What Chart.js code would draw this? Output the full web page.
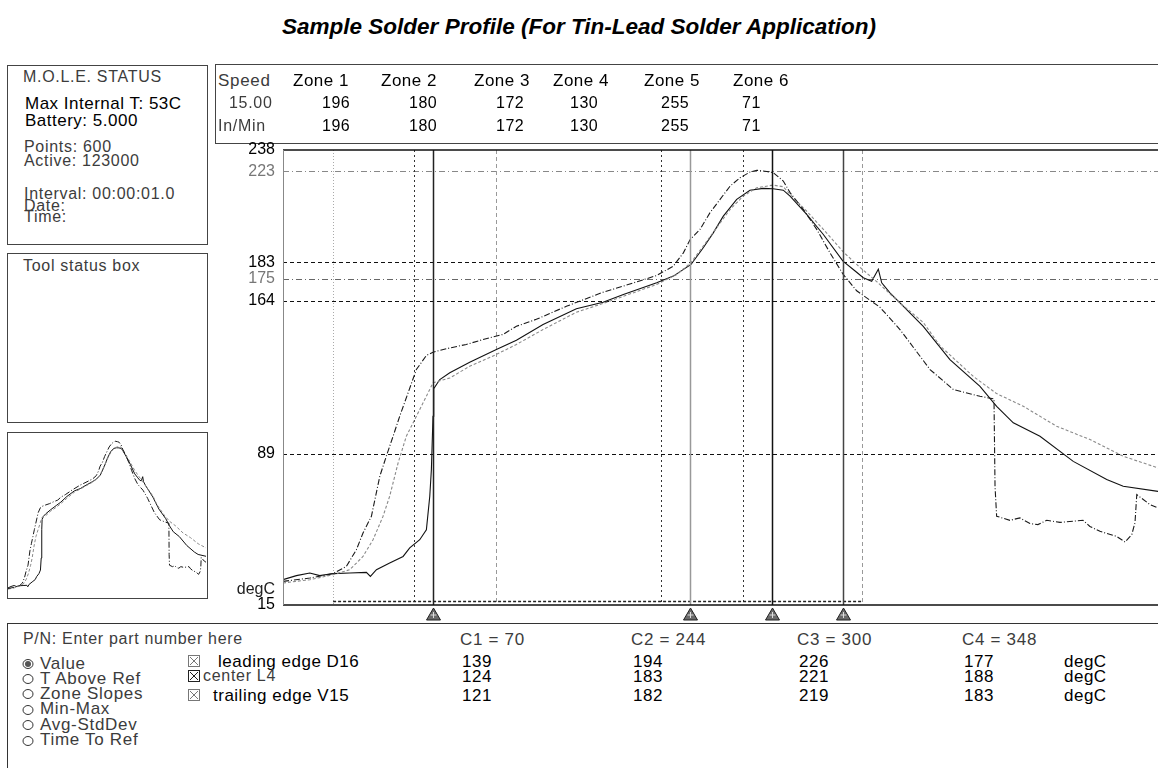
<!DOCTYPE html>
<html>
<head>
<meta charset="utf-8">
<script src="https://cdn.jsdelivr.net/npm/chart.js@4.4.1/dist/chart.umd.min.js"></script>
<style>
body { margin: 0; width: 1158px; height: 768px; overflow: hidden; background: #fff; position: relative;
       font-family: "Liberation Sans", Arial, Helvetica, sans-serif; color: #000; }
.txt { position: absolute; line-height: 1; white-space: nowrap; }
.lt { color: #3c3c3c; letter-spacing: 0.7px; }
.dk { letter-spacing: 0.5px; }
.box { position: absolute; box-sizing: border-box; border: 1px solid #444; }
.title { position: absolute; left: 0; width: 1158px; top: 16px; text-align: center; font-size: 22.5px;
         font-weight: bold; font-style: italic; line-height: 1; }
svg.ic { position: absolute; }
</style>
</head>
<body>
<div class="title">Sample Solder Profile (For Tin-Lead Solder Application)</div>

<div class="box" style="left:7px;top:65px;width:201px;height:180px"></div>
<div class="box" style="left:7px;top:253px;width:201px;height:170px"></div>
<div class="box" style="left:7px;top:432px;width:201px;height:167px"></div>
<div class="box" style="left:215px;top:64px;width:950px;height:80px;border-right:none"></div>
<div class="box" style="left:7px;top:623px;width:1160px;height:160px;border-color:#333"></div>

<canvas id="mainChart" width="943" height="493" style="position:absolute;left:215px;top:130px"></canvas>
<canvas id="thumbChart" width="198" height="163" style="position:absolute;left:8px;top:434px"></canvas>

<script>
// time axis in seconds, temperature in degC
const timeRange = [-32, 561.8];
const tempRange = [15, 238];

const yTickValues = [238, 227.5, 183, 175, 164, 89, 22.5, 15];
const yTickLabels = ['238', '223', '183', '175', '164', '89', 'degC', '15'];
const yTickColors = ['#000', '#777', '#000', '#777', '#000', '#000', '#222', '#000'];

const refLevels = [227.5, 183, 175, 164, 89];
const zoneEdges = [2, 57, 112.5, 224.5, 280, 361];
const cursorTimes = [70, 244, 300, 348];
const conveyorLevel = 17.1;

const zoneNames = ['Zone 1', 'Zone 2', 'Zone 3', 'Zone 4', 'Zone 5', 'Zone 6'];
const zoneTemps = [196, 180, 172, 130, 255, 71];

const seriesNames = ['leading edge D16', 'center L4', 'trailing edge V15'];
const leadingAtCursor = [139, 194, 226, 177];
const centerAtCursor = [124, 183, 221, 188];
const trailingAtCursor = [121, 182, 219, 183];

const leadingEdge = [
    [-32, 26.6], [-13.8, 28.2], [2, 30.4], [11, 33.9], [17.8, 42.1], [22.3, 50.3], [28, 58.5],
    [33.7, 78.1], [38.1, 87.9], [42.7, 97.7], [47.2, 107.5], [52.9, 119.0], [58.5, 130.4],
    [65.3, 137.3], [69.8, 138.9], [78.9, 140.6], [92.4, 142.7], [103.8, 145.1], [117.3, 147.6],
    [126.4, 151.6], [139.9, 155.0], [160.3, 161.4], [185.2, 168.3], [199, 171.3], [221.6, 176.5],
    [232.9, 181.1], [239.7, 187.6], [244.2, 194], [251, 199.1], [257.8, 207.3], [264.6, 213.8],
    [271.4, 220.3], [278.2, 224.4], [284.9, 227.2], [289.5, 228.1], [296.3, 227.5], [300.7, 226.9],
    [307.5, 222.8], [312.1, 217.1], [321.1, 208.9], [330.2, 199.1], [339.2, 187.6], [348.2, 177.0],
    [357.3, 169], [373, 161], [379.9, 155.5], [386.7, 150], [407.1, 130.4], [422.9, 120.6],
    [441, 117.3], [450.5, 116.0], [451.2, 73.2], [452.3, 58.5], [461.3, 56.5], [468.1, 57.7],
    [474.9, 54.9], [480.3, 54.4], [486.3, 56.5], [495.3, 55.5], [510.9, 56.5], [515.6, 53.5],
    [522.4, 51.1], [533.8, 48.6], [539.4, 45.9], [544, 49.5], [546.2, 55.4], [547.4, 69.1],
    [556.4, 64.2], [561.8, 62.6]
];

const centerL4 = [
    [-32, 25.8], [-13.8, 27.4], [2, 29.9], [13.3, 32.3], [22.3, 38.8], [29.1, 47.0], [35.9, 58.5],
    [40.4, 68.3], [46.1, 84.6], [51.7, 97.7], [58.5, 107.5], [65.3, 117.3], [69.8, 123.9],
    [81.2, 126.3], [94.7, 132.0], [112.8, 137.8], [126.4, 142.7], [144.5, 150.0], [167.1, 158.5],
    [185.2, 162.8], [199, 166.3], [221.6, 172.1], [235.2, 177.0], [244.9, 182.8], [253.2, 190.9],
    [262.3, 199.9], [271.4, 208.9], [280.4, 215.4], [289.5, 219.5], [300.5, 220.8], [307.5, 220.0],
    [312.1, 216.2], [323.4, 208.0], [334.7, 199.1], [348, 188.2], [357.3, 181.9], [370.9, 173.5],
    [386.7, 163], [402.5, 153.5], [413.9, 142], [436.5, 127], [452.3, 118.6], [470.4, 112.4],
    [493, 102.6], [515.6, 96.1], [538.2, 87.9], [561.8, 82.2]
];

const trailingEdge = [
    [-32, 27.4], [-22.9, 29.4], [-13.8, 30.7], [-7.1, 29.4], [2, 30.4], [13.3, 30.7], [24.6, 31.0],
    [27.3, 29.0], [31.4, 32.3], [40.4, 35.6], [49.5, 38.8], [54, 43.0], [60.8, 47.0], [65.3, 51.9],
    [67.6, 68.3], [68.7, 81.4], [69.8, 107.5], [70.3, 121], [74.4, 125.5], [81.2, 128.8],
    [94.7, 134.0], [112.8, 140.2], [126.4, 144.8], [144.5, 152.5], [167.1, 160.2], [185.2, 163.4],
    [199, 167.2], [221.6, 172.9], [232.9, 176.2], [244.9, 181.9], [253.2, 190.1], [260, 197.4],
    [266.8, 205.6], [275.9, 213.8], [284.9, 218.3], [293.9, 219.2], [300.5, 219.0], [307.5, 218.3],
    [312.1, 215.4], [323.4, 206.4], [334.7, 196.6], [348, 183.5], [357.3, 178.1], [361.8, 175.4],
    [367.5, 173.7], [372, 179.6], [374.3, 172.9], [379.9, 168.0], [386.7, 163.1], [402.5, 151.6],
    [420.6, 135.3], [441, 122.2], [452.3, 112.4], [463.6, 104.3], [481.7, 97.7], [504.3, 85.4],
    [527, 76.5], [538.2, 73.2], [561.8, 70.7]
];

// line styles
const refDash = [[6, 3, 1, 3], [4, 3], [6, 3, 1, 3], [4, 3], [4, 3]];
const refColor = ['#888', '#111', '#666', '#111', '#111'];
const zoneDash = [[1, 2], [2, 3], [4, 3], [2, 3], [2, 3], [4, 3]];
const zoneColor = ['#aaa', '#333', '#999', '#333', '#333', '#999'];
const cursorColor = ['#222', '#999', '#111', '#444'];

function toXY(list) {
    return list.map(p => ({ x: p[0], y: p[1] }));
}

function put(text, x, baseline, size, cls) {
    const d = document.createElement('div');
    d.className = 'txt ' + (cls || '');
    d.textContent = text;
    d.style.left = x + 'px';
    d.style.top = (baseline - size * 0.85) + 'px';
    d.style.fontSize = size + 'px';
    document.body.appendChild(d);
}

function icon(svg, x, y, w, h) {
    const s = document.createElementNS('http://www.w3.org/2000/svg', 'svg');
    s.setAttribute('class', 'ic');
    s.setAttribute('width', w);
    s.setAttribute('height', h);
    s.style.left = x + 'px';
    s.style.top = y + 'px';
    s.innerHTML = svg;
    document.body.appendChild(s);
}

// status panel
put('M.O.L.E. STATUS', 23, 83, 16, 'lt');
put('Max Internal T: 53C', 25, 109, 17, 'dk');
put('Battery: 5.000', 25, 126, 17, 'dk');
put('Points: 600', 24, 152.5, 16, 'lt');
put('Active: 123000', 24, 166.5, 16, 'lt');
put('Interval: 00:00:01.0', 24, 200, 16, 'lt');
put('Date:', 24, 211.5, 16, 'lt');
put('Time:', 24, 223, 16, 'lt');
put('Tool status box', 23, 272, 16, 'lt');

// zone header
const zoneLabelX = [293, 381, 474, 553, 644, 733];
const zoneValueX = [322, 409, 496, 570, 661, 742];
put('Speed', 218, 86, 17, 'lt');
put('15.00', 229, 109, 16, 'lt');
put('In/Min', 218, 132, 16, 'lt');
zoneNames.forEach((z, i) => put(z, zoneLabelX[i], 86, 17, 'dk'));
zoneTemps.forEach((t, i) => {
    put(String(t), zoneValueX[i], 109, 16, 'dk');
    put(String(t), zoneValueX[i], 132, 16, 'dk');
});

// bottom panel
put('P/N: Enter part number here', 23, 645, 16, 'lt');
const radioNames = ['Value', 'T Above Ref', 'Zone Slopes', 'Min-Max', 'Avg-StdDev', 'Time To Ref'];
const radioBase = [669, 684, 699, 714.5, 730, 745.5];
radioNames.forEach((r, i) => {
    put(r, 40, radioBase[i], 17, 'lt');
    const dot = i === 0 ? '<circle cx="6" cy="6" r="3" fill="#555"/>' : '';
    icon('<ellipse cx="6" cy="6" rx="5" ry="4.5" fill="none" stroke="#333" stroke-width="1"/>' + dot,
        22, radioBase[i] - 11, 12, 12);
});
const checkBase = [667, 682, 701];
const checkX = [218, 203, 213];
const checkCls = ['dk', 'lt', 'dk'];
const checkSize = [17, 16, 17];
seriesNames.forEach((s, i) => {
    put(s, checkX[i], checkBase[i], checkSize[i], checkCls[i]);
    const c = i === 1 ? '#222' : '#777';
    icon('<rect x="0.5" y="0.5" width="11" height="11" fill="none" stroke="' + c + '"/>' +
        '<path d="M2 2 L10 10 M10 2 L2 10" stroke="' + c + '" stroke-width="1"/>',
        188, checkBase[i] - 12, 12, 12);
});
const cursorLabelX = [460, 631, 797, 962];
const readRows = [leadingAtCursor, centerAtCursor, trailingAtCursor];
cursorTimes.forEach((t, i) => {
    put('C' + (i + 1) + ' = ' + t, cursorLabelX[i], 645, 17, 'lt');
    readRows.forEach((row, r) => put(String(row[i]), cursorLabelX[i] + 2, checkBase[r], 17, 'dk'));
});
checkBase.forEach(b => put('degC', 1064, b, 17, 'dk'));

const profileLines = {
    id: 'profileLines',
    beforeDatasetsDraw(chart) {
        const { ctx, chartArea: a, scales: { x, y } } = chart;
        ctx.save();
        ctx.lineWidth = 1;
        refLevels.forEach((v, i) => {
            const py = Math.round(y.getPixelForValue(v)) + 0.5;
            ctx.strokeStyle = refColor[i];
            ctx.setLineDash(refDash[i]);
            ctx.beginPath();
            ctx.moveTo(a.left, py);
            ctx.lineTo(a.right, py);
            ctx.stroke();
        });
        zoneEdges.forEach((t, i) => {
            const px = Math.round(x.getPixelForValue(t)) + 0.5;
            ctx.strokeStyle = zoneColor[i];
            ctx.setLineDash(zoneDash[i]);
            ctx.beginPath();
            ctx.moveTo(px, a.top);
            ctx.lineTo(px, a.bottom);
            ctx.stroke();
        });
        const cy = Math.round(y.getPixelForValue(conveyorLevel)) + 0.5;
        ctx.strokeStyle = '#222';
        ctx.lineWidth = 1.5;
        ctx.setLineDash([3, 2]);
        ctx.beginPath();
        ctx.moveTo(x.getPixelForValue(zoneEdges[0]), cy);
        ctx.lineTo(x.getPixelForValue(zoneEdges[zoneEdges.length - 1]), cy);
        ctx.stroke();
        ctx.restore();
    },
    afterDatasetsDraw(chart) {
        const { ctx, chartArea: a, scales: { x } } = chart;
        ctx.save();
        ctx.setLineDash([]);
        cursorTimes.forEach((t, i) => {
            const px = Math.round(x.getPixelForValue(t)) + 0.5;
            ctx.strokeStyle = cursorColor[i];
            ctx.lineWidth = 1.5;
            ctx.beginPath();
            ctx.moveTo(px, a.top);
            ctx.lineTo(px, a.bottom);
            ctx.stroke();
            // marker below the axis
            ctx.fillStyle = '#6a6a6a';
            ctx.strokeStyle = '#222';
            ctx.lineWidth = 1;
            ctx.beginPath();
            ctx.moveTo(px, a.bottom + 3);
            ctx.lineTo(px - 7, a.bottom + 15);
            ctx.lineTo(px + 7, a.bottom + 15);
            ctx.closePath();
            ctx.fill();
            ctx.stroke();
            ctx.strokeStyle = '#ddd';
            ctx.beginPath();
            ctx.moveTo(px - 3, a.bottom + 10);
            ctx.lineTo(px + 3, a.bottom + 10);
            ctx.moveTo(px, a.bottom + 7);
            ctx.lineTo(px, a.bottom + 13);
            ctx.stroke();
        });
        // frame
        ctx.lineWidth = 1.5;
        ctx.strokeStyle = '#111';
        ctx.beginPath();
        ctx.moveTo(a.left, a.top);
        ctx.lineTo(a.right, a.top);
        ctx.moveTo(a.left, a.bottom);
        ctx.lineTo(a.right, a.bottom);
        ctx.stroke();
        ctx.strokeStyle = '#888';
        ctx.lineWidth = 1;
        ctx.beginPath();
        ctx.moveTo(a.left + 0.5, a.top);
        ctx.lineTo(a.left + 0.5, a.bottom);
        ctx.stroke();
        ctx.restore();
    }
};

function makeDatasets(w) {
    return [
        { label: seriesNames[0], data: toXY(leadingEdge), borderColor: '#1a1a1a', borderWidth: w, borderDash: [6, 2, 1, 2] },
        { label: seriesNames[1], data: toXY(centerL4), borderColor: '#8a8a8a', borderWidth: w, borderDash: [3, 2] },
        { label: seriesNames[2], data: toXY(trailingEdge), borderColor: '#111', borderWidth: w }
    ].map(d => Object.assign(d, { pointRadius: 0, tension: 0, fill: false }));
}

new Chart(document.getElementById('mainChart'), {
    type: 'line',
    data: { datasets: makeDatasets(1.1) },
    plugins: [profileLines],
    options: {
        responsive: false,
        animation: false,
        events: [],
        layout: { padding: { top: 20, bottom: 18, left: 0, right: 0 } },
        plugins: { legend: { display: false }, tooltip: { enabled: false } },
        scales: {
            x: { type: 'linear', min: timeRange[0], max: timeRange[1], display: false },
            y: {
                type: 'linear', min: tempRange[0], max: tempRange[1],
                grid: { display: false, drawTicks: false },
                border: { display: false },
                afterFit: function (scale) { scale.width = 68; },
                afterBuildTicks: function (scale) {
                    scale.ticks = yTickValues.map(v => ({ value: v }));
                },
                ticks: {
                    autoSkip: false,
                    padding: 8,
                    font: { family: '"Liberation Sans", Arial, sans-serif', size: 16 },
                    color: ctx => yTickColors[ctx.index],
                    callback: function (value, index) { return yTickLabels[index]; }
                }
            }
        }
    }
});

// miniature overview of the same profile
new Chart(document.getElementById('thumbChart'), {
    type: 'line',
    data: { datasets: makeDatasets(1) },
    options: {
        responsive: false,
        animation: false,
        events: [],
        layout: { padding: 0 },
        plugins: { legend: { display: false }, tooltip: { enabled: false } },
        scales: {
            x: { type: 'linear', min: timeRange[0], max: timeRange[1], display: false },
            y: { type: 'linear', min: tempRange[0], max: tempRange[1], display: false }
        }
    }
});
</script>
</body>
</html>
